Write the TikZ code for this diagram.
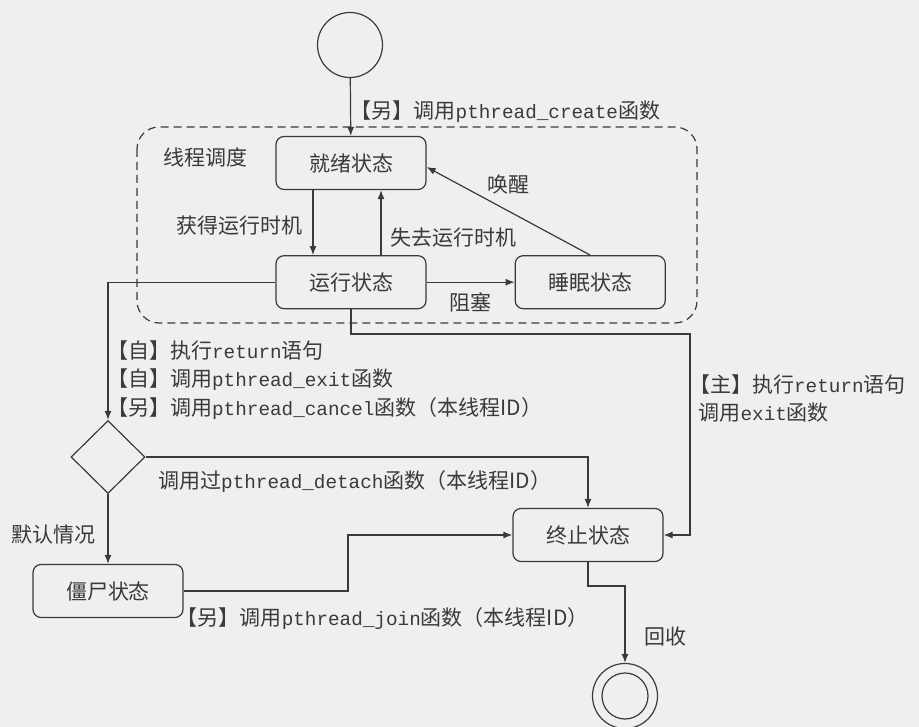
\documentclass[tikz,border=0pt]{standalone}
\usepackage{fontspec}
\setmainfont{Noto Sans CJK SC}
\newfontfamily\codefont{Liberation Mono}[Scale=0.92]
\usepackage{tikz}
\usetikzlibrary{arrows.meta}
\usetikzlibrary{positioning,calc,shapes.geometric}
\definecolor{ink}{HTML}{3A3A3A}
\definecolor{paper}{HTML}{EFEFEF}
\newcommand\fn[1]{{\codefont #1}}
\newcommand\who[1]{\hspace*{-.45em}【#1】}

\begin{document}
\begin{tikzpicture}[x=1pt, y=-1pt, line width=1.2pt, draw=ink,
                    >={Latex[length=9pt,width=7pt]},
                    every node/.style={font=\fontsize{21}{28.5}\selectfont, text=ink},
                    phase/.style={draw=ink, rounded corners=8pt, minimum width=150pt,
                      minimum height=53pt, inner sep=0pt},
                    start/.style={draw=ink, circle, minimum size=65pt, inner sep=0pt},
                    choice/.style={draw=ink, diamond, minimum width=74pt,
                      minimum height=73pt, inner sep=0pt},
                    tag/.style={inner sep=0pt},
                    region/.style={draw=ink, dash pattern=on 8pt off 5pt,
                      rounded corners=22pt}]

                  \useasboundingbox (0,0) rectangle (919,727);
                  \clip (0,0) rectangle (919,727);
                  \fill[paper] (0,0) rectangle (919,727);

                  % scheduling region
                  \draw[region] (137,127) rectangle (697,323);
                  \node (sched) at (205,157) {线程调度};

                  % states
                  \node (init) [start] at (350,45) {};
                  \node (ready) [phase] at (351,163) {就绪状态};
                  \node (run) [phase, below=65pt of ready] {运行状态};
                  \node (sleep) [phase, right=88pt of run] {睡眠状态};
                  \node (decide) [choice] at (108,457) {};
                  \node (zombie) [phase] at (108,591) {僵尸状态};
                  \node (dead) [phase] at (588,535) {终止状态};
                  \node (final) [start] at (625,696) {};
                  \draw (final.center) circle[radius=23];

                  % transitions
                  \draw [->] (init) -- node[tag, pos=0.58, right=9pt]
                    {\who{另}调用\fn{pthread\_create}函数} (ready);
                  \draw [->] ([xshift=-38pt]ready.south) -- node[tag, pos=0.55, left=10pt]
                    {获得运行时机} ([xshift=-38pt]run.north);
                  \draw [->] ([xshift=30pt]run.north) -- node[tag, pos=0.27, right=9pt]
                    {失去运行时机} ([xshift=30pt]ready.south);
                  \draw [->] (sleep.north) -- node[tag, midway, above=16pt]
                    {唤醒} ([yshift=-4pt]ready.east);
                  \path [->] (run) edge node[tag, below=10pt] {阻塞} (sleep);

                  \draw [->] (run.west) -| node[tag, pos=0.855, right=8pt, align=left]
                    {\who{自}执行\fn{return}语句\\
                     \who{自}调用\fn{pthread\_exit}函数\\
                     \who{另}调用\fn{pthread\_cancel}函数（本线程ID）} (decide.north);
                  \draw [->] (decide.east) -| node[tag, pos=0, below right=13pt and 12pt]
                    {调用过\fn{pthread\_detach}函数（本线程ID）} (dead.north);
                  \draw [->] (decide.south) -- node[tag, pos=0.58, left=12pt]
                    {默认情况} (zombie.north);
                  \draw [->] (zombie.east) -- node[tag, pos=0, below right=16pt and 2pt]
                    {\who{另}调用\fn{pthread\_join}函数（本线程ID）} (348,591) |- (dead.west);
                  \draw [->] (run.south) |- (690,334) |- node[tag, pos=0.16, right=8pt, align=left]
                    {\who{主}执行\fn{return}语句\\
                     调用\fn{exit}函数} (dead.east);
                  \draw [->] (dead.south) |- (625,586) -- node[tag, pos=0.66, right=19pt]
                    {回收} (final.north);
                \end{tikzpicture}
\end{document}
